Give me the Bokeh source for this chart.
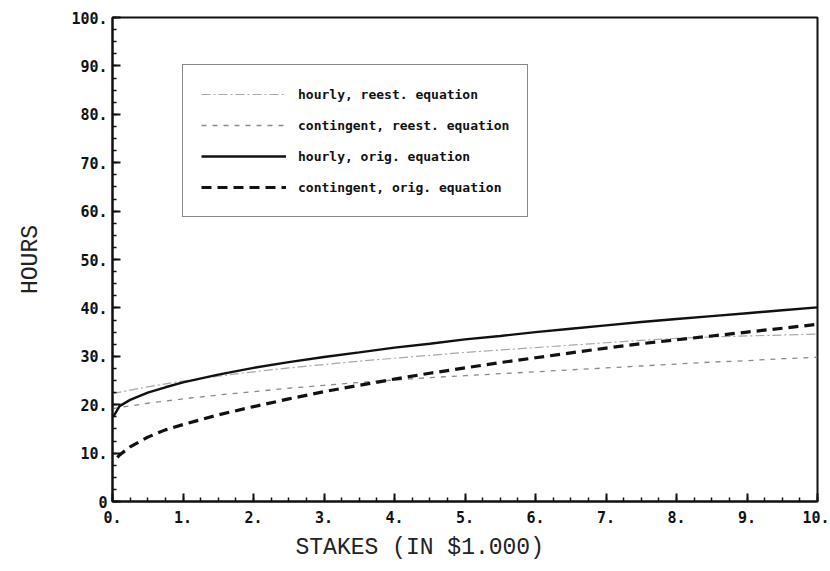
from bokeh.plotting import figure
from bokeh.models import Range1d, FixedTicker, Legend, LegendItem, Title
from bokeh.embed import file_html
from bokeh.resources import INLINE

# ---- data ----
x_hourly_orig = [0.01, 0.1, 0.25, 0.5, 0.75, 1, 1.5, 2, 2.5, 3, 3.5, 4, 4.5, 5,
                 5.5, 6, 6.5, 7, 7.5, 8, 8.5, 9, 9.5, 10]
y_hourly_orig = [17.5, 19.7, 21.0, 22.5, 23.6, 24.6, 26.2, 27.6, 28.8, 29.85, 30.8,
                 31.8, 32.6, 33.5, 34.2, 35.0, 35.7, 36.4, 37.1, 37.7, 38.3, 38.9,
                 39.5, 40.1]

x_cont_orig = [0.07, 0.1, 0.25, 0.5, 0.75, 1, 1.5, 2, 2.5, 3, 3.5, 4, 4.5, 5,
               5.5, 6, 6.5, 7, 7.5, 8, 8.5, 9, 9.5, 10]
y_cont_orig = [9.1, 9.6, 11.3, 13.3, 14.8, 15.9, 17.9, 19.6, 21.2, 22.7, 24.0,
               25.3, 26.5, 27.6, 28.7, 29.7, 30.7, 31.7, 32.6, 33.4, 34.2, 35.0,
               35.8, 36.6]

x_hourly_reest = [0, 0.25, 0.5, 1, 1.5, 2, 2.5, 3, 3.5, 4, 4.5, 5, 5.5, 6, 6.5,
                  7, 7.5, 8, 8.5, 9, 9.5, 10]
y_hourly_reest = [22.3, 23.0, 23.7, 24.9, 25.9, 26.8, 27.6, 28.3, 29.0, 29.6, 30.2,
                  30.8, 31.3, 31.8, 32.3, 32.8, 33.3, 33.7, 34.0, 34.2, 34.4, 34.6]

x_cont_reest = [0, 0.5, 1, 1.5, 2, 2.5, 3, 3.5, 4, 4.5, 5, 5.5, 6, 6.5, 7, 7.5,
                8, 8.5, 9, 9.5, 10]
y_cont_reest = [19.2, 20.3, 21.2, 22.0, 22.7, 23.4, 24.0, 24.6, 25.1, 25.6, 26.0,
                26.4, 26.8, 27.2, 27.6, 28.0, 28.4, 28.8, 29.1, 29.5, 29.8]

x_ticks = [0, 1, 2, 3, 4, 5, 6, 7, 8, 9, 10]
x_tick_labels = ["0.", "1.", "2.", "3.", "4.", "5.", "6.", "7.", "8.", "9.", "10."]
y_ticks = [0, 10, 20, 30, 40, 50, 60, 70, 80, 90, 100]
y_tick_labels = ["0", "10.", "20.", "30.", "40.", "50.", "60.", "70.", "80.", "90.", "100."]

legend_labels = ["hourly, reest. equation", "contingent, reest. equation",
                 "hourly, orig. equation", "contingent, orig. equation"]

x_title = "STAKES (IN $1.000)"
y_title = "HOURS"

MONO = "DejaVu Sans Mono"
TITLE_FONT = "Liberation Mono"

p = figure(frame_width=705, frame_height=484,
           min_border_left=112, min_border_right=12,
           min_border_top=17, min_border_bottom=10,
           x_range=Range1d(0, 10), y_range=Range1d(0, 100),
           output_backend="svg", toolbar_location=None,
           background_fill_color="white", border_fill_color="white")

p.xgrid.visible = False
p.ygrid.visible = False
p.outline_line_color = "#111111"
p.outline_line_width = 2

# x axis
minor_x = [i * 0.25 for i in range(41)]
p.xaxis.ticker = FixedTicker(ticks=x_ticks, minor_ticks=minor_x)
p.xaxis.major_label_overrides = {t: l for t, l in zip(x_ticks, x_tick_labels)}
# y axis
minor_y = [i * 2.5 for i in range(41)]
p.yaxis.ticker = FixedTicker(ticks=y_ticks, minor_ticks=minor_y)
p.yaxis.major_label_overrides = {t: l for t, l in zip(y_ticks, y_tick_labels)}

for ax in (p.xaxis, p.yaxis):
    ax.axis_line_color = "#111111"
    ax.axis_line_width = 2
    ax.major_tick_line_color = "#111111"
    ax.minor_tick_line_color = "#111111"
    ax.major_tick_line_width = 2
    ax.minor_tick_line_width = 1.5
    ax.major_tick_in = 8
    ax.major_tick_out = 0
    ax.minor_tick_in = 4
    ax.minor_tick_out = 0
    ax.major_label_text_font = MONO
    ax.major_label_text_font_size = "15px"
    ax.major_label_text_font_style = "bold"
    ax.major_label_text_color = "#111111"

p.xaxis.major_label_standoff = 9
p.yaxis.major_label_standoff = 5

p.yaxis.axis_label = y_title
p.yaxis.axis_label_text_font = TITLE_FONT
p.yaxis.axis_label_text_font_size = "23px"
p.yaxis.axis_label_text_font_style = "normal"
p.yaxis.axis_label_text_color = "#222222"
p.yaxis.axis_label_standoff = 24

# x title below the axis, left-aligned with an offset like the original
p.add_layout(Title(text=x_title, align="left", offset=183,
                   text_font=TITLE_FONT, text_font_size="23px",
                   text_font_style="normal", text_color="#222222",
                   standoff=14), "below")

r1 = p.line(x_hourly_reest, y_hourly_reest, line_color="#a8a8a8", line_width=1.2,
            line_dash="9 3 2 3")
r2 = p.line(x_cont_reest, y_cont_reest, line_color="#8a8a8a", line_width=1.3,
            line_dash="5 6")
r3 = p.line(x_hourly_orig, y_hourly_orig, line_color="#111111", line_width=2.4)
r4 = p.line(x_cont_orig, y_cont_orig, line_color="#111111", line_width=3.2,
            line_dash="10 6")

legend = Legend(items=[LegendItem(label=l, renderers=[r])
                       for l, r in zip(legend_labels, [r1, r2, r3, r4])],
                location=(70, 284))
legend.border_line_color = "#111111"
legend.border_line_width = 1.5
legend.background_fill_color = "white"
legend.background_fill_alpha = 1
legend.padding = 18
legend.spacing = 9
legend.glyph_width = 85
legend.glyph_height = 22
legend.label_height = 22
legend.label_standoff = 12
legend.label_text_font = MONO
legend.label_text_font_size = "13px"
legend.label_text_font_style = "bold"
legend.label_text_color = "#111111"
legend.margin = 0
p.add_layout(legend)

open("out.html", "w").write(file_html(p, INLINE))
